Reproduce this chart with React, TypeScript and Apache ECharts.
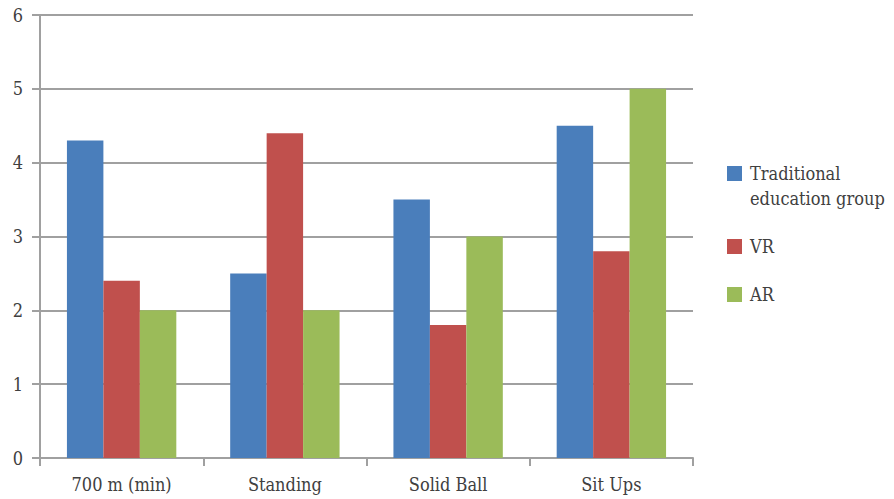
import React, { useEffect, useRef } from "react";
import * as echarts from "echarts";

const categories = ["700 m (min)", "Standing", "Solid Ball", "Sit Ups"];
const seriesNames = ["Traditional\neducation group", "VR", "AR"];
const traditionalValues = [4.3, 2.5, 3.5, 4.5];
const vrValues = [2.4, 4.4, 1.8, 2.8];
const arValues = [2.0, 2.0, 3.0, 5.0];
const colors = ["#4A7EBB", "#C0504D", "#9BBB59"];
const FONT = "'DejaVu Serif Condensed', 'DejaVu Serif', serif";

export default function App() {
  const ref = useRef<HTMLDivElement>(null);
  useEffect(() => {
    document.body.style.margin = "0";
    if (!ref.current) return;
    const chart = echarts.init(ref.current, null, { renderer: "svg" });
    const data = [traditionalValues, vrValues, arValues];
    const legendTops = [166, 239, 287];
    chart.setOption({
      animation: false,
      grid: { left: 40, top: 15, right: 201, bottom: 41, containLabel: false },
      xAxis: {
        type: "category",
        data: categories,
        axisLine: { lineStyle: { color: "#A0A0A0", width: 2 } },
        axisTick: { show: true, length: 8, lineStyle: { color: "#A0A0A0", width: 2 } },
        axisLabel: { color: "#404040", fontSize: 18, fontFamily: FONT, margin: 17 },
      },
      yAxis: {
        type: "value",
        min: 0,
        max: 6,
        interval: 1,
        axisLine: { show: true, lineStyle: { color: "#A0A0A0", width: 2 } },
        axisTick: { show: true, length: 8, lineStyle: { color: "#A0A0A0", width: 2 } },
        axisLabel: { color: "#404040", fontSize: 18, fontFamily: FONT, margin: 17 },
        splitLine: { lineStyle: { color: "#A0A0A0", width: 2 } },
      },
      series: data.map((d, i) => ({
        name: seriesNames[i],
        type: "bar",
        data: d,
        barGap: "0%",
        barCategoryGap: "33%",
        itemStyle: { color: colors[i] },
      })),
      graphic: seriesNames.flatMap((n, i) => [
        {
          type: "rect",
          left: 727,
          top: legendTops[i],
          shape: { width: 15, height: 15 },
          style: { fill: colors[i] },
        },
        {
          type: "text",
          left: 750,
          top: legendTops[i] - 5,
          style: {
            text: n,
            fill: "#404040",
            font: `18px ${FONT}`,
            lineHeight: 25,
          },
        },
      ]),
    });
    return () => chart.dispose();
  }, []);
  return <div ref={ref} style={{ width: 894, height: 499 }} />;
}
